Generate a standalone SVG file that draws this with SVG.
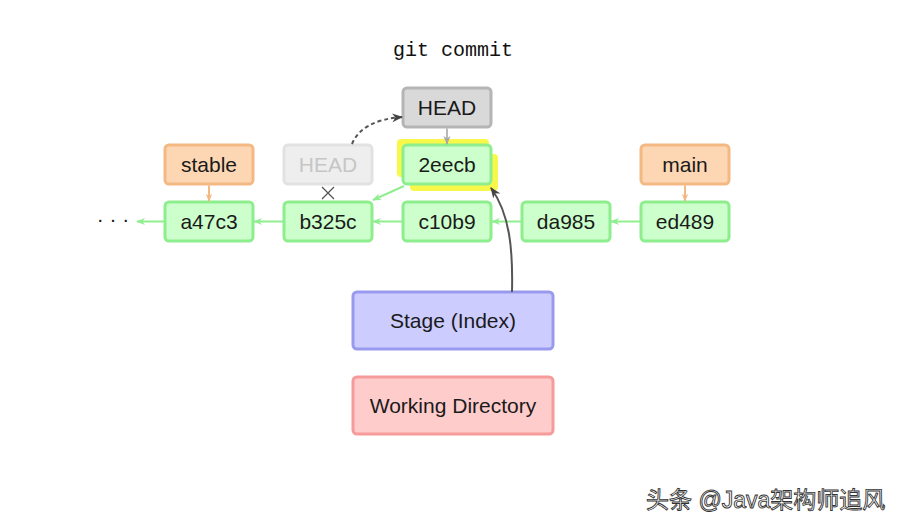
<svg xmlns="http://www.w3.org/2000/svg" width="907" height="529" viewBox="0 0 907 529">
<style>
.lbl{font-family:"Liberation Sans",Arial,sans-serif;font-size:21px;fill:#1a1a1a;text-anchor:middle;dominant-baseline:central}
.commit rect{fill:#ccffcc;stroke:#8eee8e;stroke-width:3}
.branch rect{fill:#fdd7b3;stroke:#f4b883;stroke-width:3}
.head rect{fill:#d9d9d9;stroke:#b5b5b5;stroke-width:3}
.ghost rect{fill:#eeeeee;stroke:#e2e2e2;stroke-width:3}
.ghost text{fill:#c6c6c6}
.g{stroke:#90ee90;stroke-width:2;fill:none}
.o{stroke:#f4b883;stroke-width:2;fill:none}
.k{stroke:#555;stroke-width:2;fill:none}
</style>
<defs>
<marker id="ag" viewBox="0 0 10 10" refX="9" refY="5" markerWidth="9" markerHeight="9" markerUnits="userSpaceOnUse" orient="auto"><path d="M0,1 L10,5 L0,9 L3,5z" fill="#90ee90"/></marker>
<marker id="ao" viewBox="0 0 10 10" refX="9" refY="5" markerWidth="8" markerHeight="8" markerUnits="userSpaceOnUse" orient="auto"><path d="M0,1 L10,5 L0,9 L3,5z" fill="#f4b883"/></marker>
<marker id="ay" viewBox="0 0 10 10" refX="9" refY="5" markerWidth="9" markerHeight="9" markerUnits="userSpaceOnUse" orient="auto"><path d="M0,1 L10,5 L0,9 L3,5z" fill="#a8a8a8"/></marker>
<marker id="ak" viewBox="0 0 10 10" refX="9" refY="5" markerWidth="11" markerHeight="11" markerUnits="userSpaceOnUse" orient="auto"><path d="M0,1 L10,5 L0,9 L3,5z" fill="#444"/></marker>
</defs>
<rect width="907" height="529" fill="#ffffff"/>
<text x="453" y="50" style="font-family:'Liberation Mono','Courier New',monospace;font-size:20px;fill:#111;text-anchor:middle;dominant-baseline:central">git commit</text>

<text x="113" y="218" class="lbl">· · ·</text>

<g id="head" class="head"><rect x="403" y="88" width="88" height="39" rx="4"/><text x="447" y="107.5" class="lbl">HEAD</text></g>
<g id="head-old" class="ghost"><rect x="284" y="145" width="88" height="39" rx="4"/><text x="328" y="164.5" class="lbl">HEAD</text></g>
<g id="stable" class="branch"><rect x="165" y="145" width="88" height="39" rx="4"/><text x="209" y="164.5" class="lbl">stable</text></g>
<g id="main" class="branch"><rect x="641" y="145" width="88" height="39" rx="4"/><text x="685" y="164.5" class="lbl">main</text></g>

<g id="c2eecb" class="commit">
<rect x="397" y="139" width="92" height="38" rx="4" style="fill:#f8f84a;stroke:none"/>
<rect x="410" y="154" width="88" height="37" rx="4" style="fill:#f8f84a;stroke:none"/>
<rect x="403" y="145" width="88" height="39" rx="4"/><text x="447" y="164.5" class="lbl">2eecb</text></g>
<g id="a47c3" class="commit"><rect x="165" y="202" width="88" height="39" rx="4"/><text x="209" y="221.5" class="lbl">a47c3</text></g>
<g id="b325c" class="commit"><rect x="284" y="202" width="88" height="39" rx="4"/><text x="328" y="221.5" class="lbl">b325c</text></g>
<g id="c10b9" class="commit"><rect x="403" y="202" width="88" height="39" rx="4"/><text x="447" y="221.5" class="lbl">c10b9</text></g>
<g id="da985" class="commit"><rect x="522" y="202" width="88" height="39" rx="4"/><text x="566" y="221.5" class="lbl">da985</text></g>
<g id="ed489" class="commit"><rect x="641" y="202" width="88" height="39" rx="4"/><text x="685" y="221.5" class="lbl">ed489</text></g>

<g id="stage"><rect x="353" y="292" width="200" height="57" rx="4" fill="#ccccff" stroke="#9999ee" stroke-width="3"/><text x="453" y="320.5" class="lbl">Stage (Index)</text></g>
<g id="workdir"><rect x="353" y="377" width="200" height="57" rx="4" fill="#ffcccc" stroke="#f79a9a" stroke-width="3"/><text x="453" y="405.5" class="lbl">Working Directory</text></g>

<g id="connectors">
<line class="g" x1="165" y1="221.5" x2="137" y2="221.5" marker-end="url(#ag)"/>
<line class="g" x1="284" y1="221.5" x2="254" y2="221.5" marker-end="url(#ag)"/>
<line class="g" x1="403" y1="221.5" x2="373" y2="221.5" marker-end="url(#ag)"/>
<line class="g" x1="522" y1="221.5" x2="492" y2="221.5" marker-end="url(#ag)"/>
<line class="g" x1="641" y1="221.5" x2="611" y2="221.5" marker-end="url(#ag)"/>
<line class="g" x1="404" y1="186" x2="373" y2="200" marker-end="url(#ag)"/>
<line class="o" x1="209" y1="185.5" x2="209" y2="201" marker-end="url(#ao)"/>
<line class="o" x1="685" y1="185.5" x2="685" y2="201" marker-end="url(#ao)"/>
<line x1="447" y1="128.5" x2="447" y2="144" stroke="#a8a8a8" stroke-width="1.6" marker-end="url(#ay)"/>
<path class="k" d="M352,144 Q362,120 402,117" stroke-dasharray="4,3" marker-end="url(#ak)"/>
<path class="k" d="M512,292 C513,250 510,214 491,188" marker-end="url(#ak)"/>
<path d="M322,187 L334,199 M334,187 L322,199" stroke="#555" stroke-width="1.3" fill="none"/>
</g>

<text x="646" y="500" style="font-family:'Liberation Sans','Noto Sans CJK SC',sans-serif;font-size:23px;fill:#ffffff;stroke:#333;stroke-width:0.9;dominant-baseline:central">头条 @Java架构师追风</text>
</svg>
